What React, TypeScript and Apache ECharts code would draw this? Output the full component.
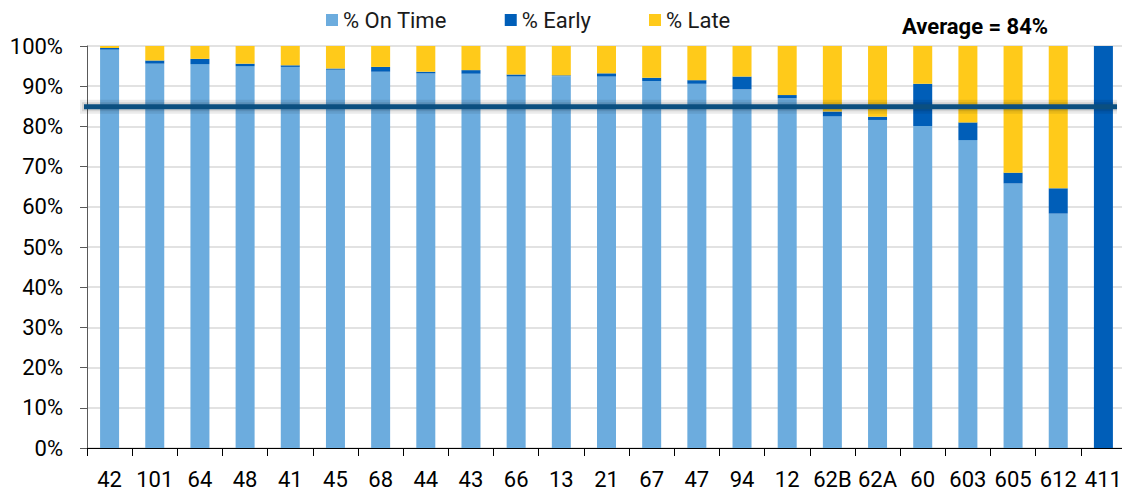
import React, { useEffect, useRef } from "react";
import * as echarts from "echarts";

const categories = ["42", "101", "64", "48", "41", "45", "68", "44", "43", "66", "13", "21", "67", "47", "94", "12", "62B", "62A", "60", "603", "605", "612", "411"];
const onTime = [99.1, 95.6, 95.5, 95.0, 94.8, 94.1, 93.6, 93.2, 93.1, 92.4, 92.5, 92.4, 91.3, 90.6, 89.2, 87.0, 82.5, 81.6, 80.1, 76.6, 65.8, 58.3, 0];
const early = [0.4, 0.8, 1.3, 0.6, 0.4, 0.3, 1.2, 0.4, 0.9, 0.5, 0.2, 0.8, 0.8, 0.9, 3.2, 0.8, 1.2, 0.8, 10.5, 4.4, 2.7, 6.3, 100];
const late = [0.5, 3.6, 3.2, 4.4, 4.8, 5.6, 5.2, 6.4, 6.0, 7.1, 7.3, 6.8, 7.9, 8.5, 7.6, 12.2, 16.3, 17.6, 9.4, 19.0, 31.5, 35.4, 0];
const yTicks = [0, 10, 20, 30, 40, 50, 60, 70, 80, 90, 100];
const averageLine = 84.9;
const averageText = "Average = 84%";

const FONT = "Roboto, 'Liberation Sans', sans-serif";

export default function App() {
  const ref = useRef<HTMLDivElement>(null);
  useEffect(() => {
    if (!ref.current) return;
    const chart = echarts.init(ref.current, null, { renderer: "svg" });
    const avgData = [[0, averageLine], [1, averageLine]];
    chart.setOption({
      animation: false,
      textStyle: { fontFamily: FONT },
      title: {
        text: averageText,
        left: 897,
        top: 10,
        textStyle: { fontFamily: FONT, fontSize: 22, fontWeight: "bold", color: "#000" },
      },
      legend: {
        left: 321,
        top: 4,
        itemWidth: 12,
        itemHeight: 12,
        itemGap: 58,
        icon: "rect",
        textStyle: { fontFamily: FONT, fontSize: 22, color: "#1a1a1a" },
        data: ["% On Time", "% Early", "% Late"],
      },
      grid: { left: 87, right: 9, top: 46, bottom: 48 },
      xAxis: [
        {
          type: "category",
          data: categories,
          axisLine: { lineStyle: { color: "#000", width: 1 } },
          axisTick: { show: true, length: 8, lineStyle: { color: "#000" } },
          axisLabel: { fontFamily: FONT, fontSize: 22, color: "#000", margin: 20, interval: 0 },
        },
        {
          type: "value",
          show: false,
          min: 0.0134,
          max: 1.0086,
        },
      ],
      yAxis: {
        type: "value",
        min: yTicks[0],
        max: yTicks[yTicks.length - 1],
        interval: 10,
        axisLine: { show: true, lineStyle: { color: "#595959", width: 1 } },
        axisTick: { show: true, length: 7, lineStyle: { color: "#595959" } },
        axisLabel: { fontFamily: FONT, fontSize: 22, color: "#000", margin: 24, formatter: "{value}%" },
        splitLine: { lineStyle: { color: "#d9d9d9", width: 1.5 } },
      },
      series: [
        {
          name: "% On Time",
          type: "bar",
          stack: "a",
          barWidth: 19,
          itemStyle: { color: "#6cacde" },
          data: onTime,
        },
        {
          name: "% Early",
          type: "bar",
          stack: "a",
          barWidth: 19,
          itemStyle: { color: "#005eb8" },
          data: early,
        },
        {
          name: "% Late",
          type: "bar",
          stack: "a",
          barWidth: 19,
          itemStyle: { color: "#ffca1a" },
          data: late,
        },
        {
          name: "AverageShadow",
          type: "line",
          xAxisIndex: 1,
          yAxisIndex: 0,
          symbol: "none",
          silent: true,
          clip: false,
          z: 4,
          lineStyle: { color: "rgba(0,0,0,0.08)", width: 14 },
          data: avgData,
        },
        {
          name: "AverageShadow2",
          type: "line",
          xAxisIndex: 1,
          yAxisIndex: 0,
          symbol: "none",
          silent: true,
          clip: false,
          z: 4,
          lineStyle: { color: "rgba(0,0,0,0.10)", width: 9 },
          data: avgData,
        },
        {
          name: "Average",
          type: "line",
          xAxisIndex: 1,
          yAxisIndex: 0,
          symbol: "none",
          silent: true,
          clip: false,
          z: 5,
          lineStyle: { color: "#0b4f80", width: 5, type: "solid" },
          data: avgData,
        },
      ],
    });
    return () => chart.dispose();
  }, []);
  return (
    <div style={{ position: "absolute", left: 0, top: 0, width: 1122, height: 496, overflow: "hidden", background: "#fff" }}>
      <div ref={ref} style={{ width: 1135, height: 496 }} />
    </div>
  );
}
